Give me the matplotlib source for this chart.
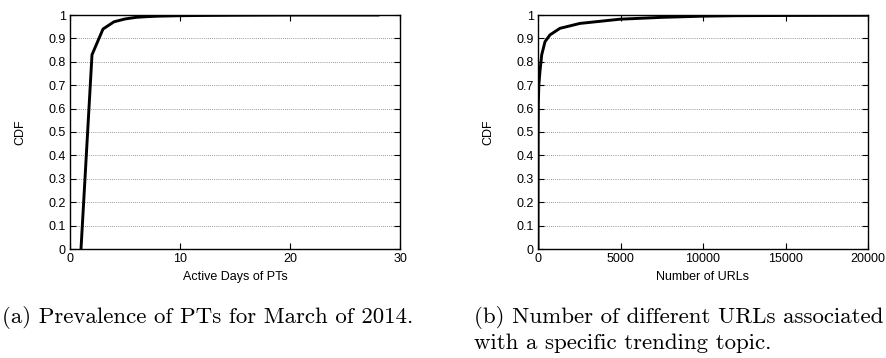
import numpy as np
import matplotlib
matplotlib.use("Agg")
import matplotlib.pyplot as plt

# (a) active days of PTs, CDF
days = [1, 2, 3, 4, 5, 6, 7, 8, 10, 12, 15, 20, 28]
days_cdf = [0.0, 0.83, 0.94, 0.971, 0.983, 0.99, 0.993, 0.995, 0.997, 0.998, 0.999, 1.0, 1.0]

# (b) number of URLs per trending topic, CDF
urls = [0, 5, 10, 20, 50, 120, 225, 425, 725, 1330, 2540, 4960, 7500, 10000, 12000, 15000, 20000]
urls_cdf = [0.0, 0.3, 0.5, 0.62, 0.7, 0.76, 0.83, 0.886, 0.915, 0.943, 0.964, 0.982,
            0.99, 0.995, 0.997, 0.998, 0.999]

yticks = np.round(np.arange(0, 1.01, 0.1), 1)
ylabels = ["0"] + ["%.1f" % v for v in yticks[1:-1]] + ["1"]

plt.rcParams["font.family"] = ["Liberation Sans", "DejaVu Sans"]
plt.rcParams["font.size"] = 9

fig = plt.figure(figsize=(8.86, 3.58), dpi=100)
ax1 = fig.add_axes([70/886, 1-249/358, 330/886, 234/358])
ax2 = fig.add_axes([538/886, 1-249/358, 330/886, 234/358])

def style(ax):
    ax.set_ylim(0, 1)
    ax.set_yticks(yticks)
    ax.set_yticklabels(ylabels)
    ax.set_ylabel("CDF", labelpad=16)
    for y in yticks[1:-1]:
        ax.axhline(y, color="#777777", linestyle=(0, (1, 1.5)), linewidth=0.6, zorder=1)
    ax.tick_params(direction="in", top=True, right=True, length=4, width=0.8, pad=3)
    for s in ax.spines.values():
        s.set_linewidth(1.0)

ax1.plot(days, days_cdf, color="black", linewidth=2.1, zorder=3)
ax1.set_xlim(0, 30)
ax1.set_xticks([0, 10, 20, 30])
ax1.set_xlabel("Active Days of PTs", labelpad=4)
style(ax1)

ax2.plot(urls, urls_cdf, color="black", linewidth=2.1, zorder=3)
ax2.set_xlim(0, 20000)
ax2.set_xticks([0, 5000, 10000, 15000, 20000])
ax2.set_xlabel("Number of URLs", labelpad=4)
style(ax2)

cap = dict(family="cmr10", fontsize=16.5, va="top", ha="left")
fig.text(2/886, 1-306/358, "(a) Prevalence of PTs for March of 2014.", **cap)
fig.text(474/886, 1-306/358, "(b) Number of different URLs associated", **cap)
fig.text(474/886, 1-333/358, "with a specific trending topic.", **cap)

fig.savefig("out.png", dpi=100)
